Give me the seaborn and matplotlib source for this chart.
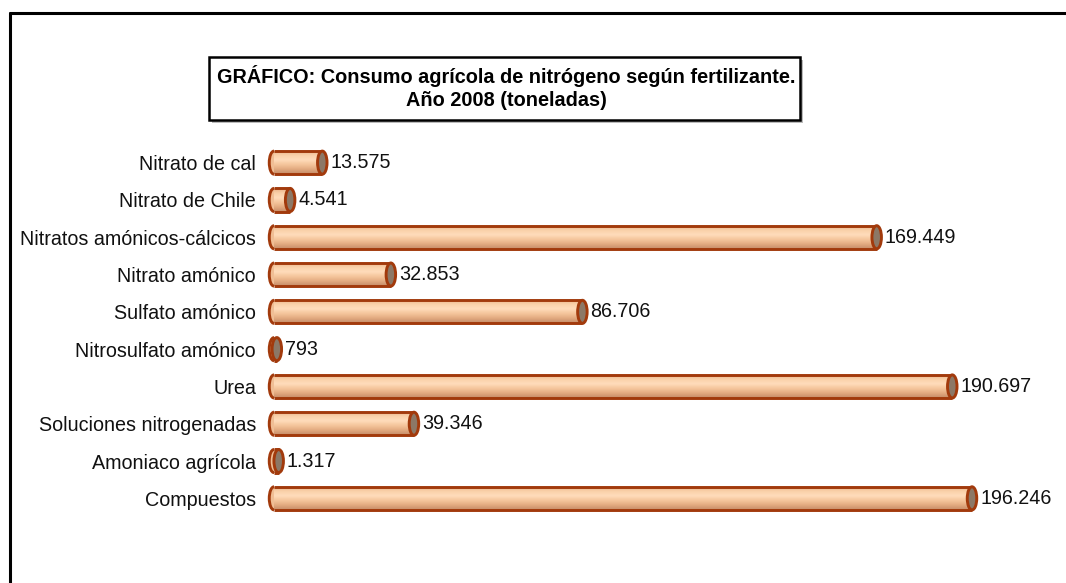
import numpy as np
import pandas as pd
import matplotlib
matplotlib.use("Agg")
import matplotlib.pyplot as plt
import seaborn as sns
from matplotlib.patches import Ellipse, Rectangle, Arc
from matplotlib.colors import LinearSegmentedColormap

categories = ["Nitrato de cal", "Nitrato de Chile", "Nitratos amónicos-cálcicos",
              "Nitrato amónico", "Sulfato amónico", "Nitrosulfato amónico", "Urea",
              "Soluciones nitrogenadas", "Amoniaco agrícola", "Compuestos"]
values = [13575, 4541, 169449, 32853, 86706, 793, 190697, 39346, 1317, 196246]
value_labels = ["13.575", "4.541", "169.449", "32.853", "86.706", "793",
                "190.697", "39.346", "1.317", "196.246"]
title_lines = ["GRÁFICO: Consumo agrícola de nitrógeno según fertilizante.",
               "Año 2008 (toneladas)"]

sns.set_theme(style="white")
plt.rcParams['font.family'] = ['Liberation Sans', 'DejaVu Sans']

W, H = 1066, 583
fig = plt.figure(figsize=(W / 100, H / 100), dpi=100)
fig.patch.set_facecolor("white")

ax_left, ax_right, ax_top, ax_bot = 274, 1040, 144, 517
ax = fig.add_axes([ax_left / W, 1 - ax_bot / H, (ax_right - ax_left) / W, (ax_bot - ax_top) / H])

df = pd.DataFrame({"cat": categories, "val": values})
bar_h = 0.62
sns.barplot(data=df, x="val", y="cat", orient="h", order=categories, color="#F2C29A",
            width=bar_h, ax=ax)

px_per_unit = (972 - ax_left) / 196246.0
xmax = (ax_right - ax_left) / px_per_unit
ax.set_xlim(0, xmax)
ax.set_ylim(len(categories) - 0.5, -0.5)

units_per_px = 1.0 / px_per_unit
cap_w = 9.5 * units_per_px
edge = "#A23A0C"
lw = 2.1

grad = LinearSegmentedColormap.from_list(
    "cyl", ["#E8AE84", "#F9D0A8", "#FFDCBB", "#F5C69C", "#E3AA80", "#C58C68"])
gimg = np.linspace(0, 1, 64).reshape(-1, 1)

for p, v, lab in zip(list(ax.patches), values, value_labels):
    y0 = p.get_y()
    h = p.get_height()
    yc = y0 + h / 2
    x1 = p.get_x() + p.get_width()
    p.set_visible(False)
    # left rounded end: fill plus outer half outline
    ax.add_patch(Ellipse((0, yc), cap_w, h, facecolor="#F0BE95", edgecolor="none",
                         zorder=2, clip_on=False))
    ax.add_patch(Arc((0, yc), cap_w, h, theta1=90, theta2=270, color=edge, lw=lw,
                     zorder=4, clip_on=False))
    # body with gradient
    body = Rectangle((0, y0), x1, h, facecolor="none", edgecolor="none", zorder=3)
    ax.add_patch(body)
    im = ax.imshow(gimg, cmap=grad, extent=[0, x1, y0 + h, y0], aspect="auto",
                   zorder=3, interpolation="bilinear")
    im.set_clip_path(body)
    ax.plot([0, x1], [y0, y0], color=edge, lw=lw, zorder=4, solid_capstyle="butt")
    ax.plot([0, x1], [y0 + h, y0 + h], color=edge, lw=lw, zorder=4, solid_capstyle="butt")
    # right cap
    ax.add_patch(Ellipse((x1, yc), cap_w, h, facecolor="#8C7866", edgecolor=edge, lw=lw,
                         zorder=5, clip_on=False))
    ax.text(x1 + 8 * units_per_px, yc, lab, va="center", ha="left", fontsize=14.2,
            color="#111111", zorder=6)

ax.set_xlim(0, xmax)
ax.set_ylim(len(categories) - 0.5, -0.5)
ax.set_xlabel("")
ax.set_ylabel("")
ax.set_xticks([])
ax.tick_params(axis="y", length=0, pad=13, labelsize=14.2, labelcolor="#111111")
for s in ax.spines.values():
    s.set_visible(False)
ax.set_facecolor("none")

# outer frame (left and top)
fig.add_artist(plt.Line2D([10 / W, 10 / W], [0, 1 - 13 / H], color="black", lw=2.2))
fig.add_artist(plt.Line2D([10 / W, 1], [1 - 13 / H, 1 - 13 / H], color="black", lw=2.2))

# title box with shadow
bx0, bx1, by0, by1 = 209, 800, 57, 120
fig.add_artist(Rectangle(((bx0 + 3) / W, 1 - (by1 + 3) / H), (bx1 - bx0) / W, (by1 - by0) / H,
                         facecolor="#BBBBBB", edgecolor="none", transform=fig.transFigure))
fig.add_artist(Rectangle((bx0 / W, 1 - by1 / H), (bx1 - bx0) / W, (by1 - by0) / H,
                         facecolor="white", edgecolor="black", lw=1.8, transform=fig.transFigure))
fig.text(506 / W, 1 - 76 / H, title_lines[0], ha="center", va="center",
         fontsize=14.3, fontweight="bold", color="black")
fig.text(506 / W, 1 - 101 / H, title_lines[1], ha="center", va="center",
         fontsize=14.3, fontweight="bold", color="black")

fig.savefig("out.png", dpi=100, facecolor="white")
